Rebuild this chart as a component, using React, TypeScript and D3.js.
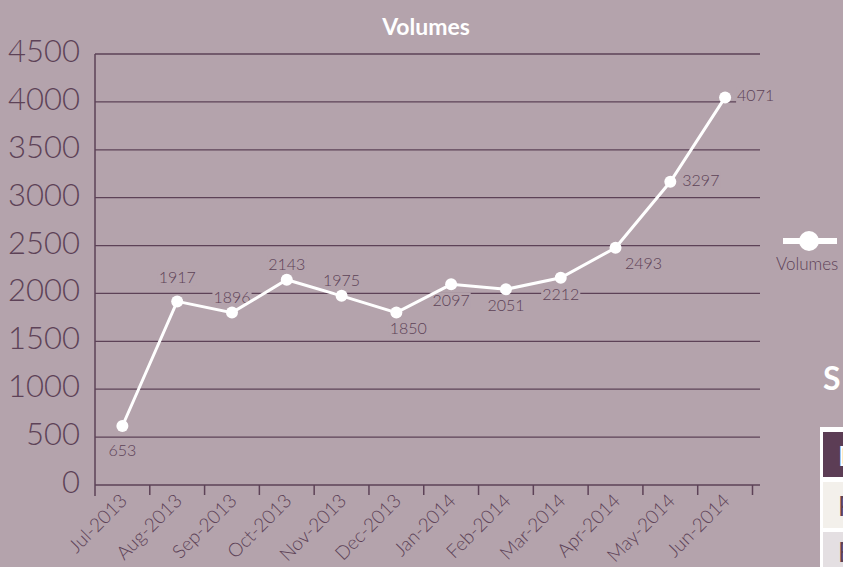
import React, { useRef, useEffect } from 'react';
import * as d3 from 'd3';

const months = ['Jul-2013', 'Aug-2013', 'Sep-2013', 'Oct-2013', 'Nov-2013', 'Dec-2013',
                'Jan-2014', 'Feb-2014', 'Mar-2014', 'Apr-2014', 'May-2014', 'Jun-2014'];
// where the markers sit in the picture
const volumes = [616, 1917, 1800, 2143, 1975, 1800, 2095, 2043, 2164, 2477, 3166, 4047];
// what the data labels say
const volumeLabels = ['653', '1917', '1896', '2143', '1975', '1850', '2097', '2051', '2212', '2493', '3297', '4071'];
const labelSpots = ['low', 'high', 'above', 'above', 'above', 'belowRight',
                    'below', 'below', 'below', 'belowRight', 'right', 'right'];
const yTicks = [0, 500, 1000, 1500, 2000, 2500, 3000, 3500, 4000, 4500];

const BG = '#b4a3ac';
const PLUM = '#5d4257';
const FONT = 'Lato, "Open Sans", sans-serif';

export default function App() {
    const chartRef = useRef<SVGSVGElement>(null);
    const width = 843, height = 567;

    useEffect(() => {
        document.body.style.margin = '0';
        document.body.style.overflow = 'hidden';

        const svg = d3.select(chartRef.current);
        svg.selectAll('*').remove();

        const left = 95, right = 760, top = 54, bottom = 485;

        const xScale = d3.scaleBand<string>()
            .domain(months)
            .range([left, 752.5]);
        const yScale = d3.scaleLinear()
            .domain([0, 4500])
            .range([bottom, top]);
        const cx = (m: string) => (xScale(m) as number) + xScale.bandwidth() / 2;

        svg.append('rect').attr('width', width).attr('height', height).attr('fill', BG);

        // title
        svg.append('text')
            .attr('x', 426).attr('y', 35)
            .attr('text-anchor', 'middle')
            .attr('font-family', FONT).attr('font-weight', 700).attr('font-size', 23)
            .attr('fill', '#fff')
            .text('Volumes');

        // gridlines + y labels
        const grid = svg.append('g');
        yTicks.filter(t => t > 0).forEach(t => {
            grid.append('line')
                .attr('x1', left).attr('x2', right)
                .attr('y1', yScale(t)).attr('y2', yScale(t))
                .attr('stroke', PLUM).attr('stroke-width', 1.3);
        });
        yTicks.forEach(t => {
            grid.append('text')
                .attr('x', 80).attr('y', yScale(t) + 8)
                .attr('text-anchor', 'end')
                .attr('font-family', FONT).attr('font-weight', 300).attr('font-size', 31)
                .attr('fill', PLUM)
                .text(t);
        });

        // axes
        svg.append('line')
            .attr('x1', left).attr('x2', left).attr('y1', top).attr('y2', bottom + 11)
            .attr('stroke', PLUM).attr('stroke-width', 1.5);
        svg.append('line')
            .attr('x1', left).attr('x2', right).attr('y1', bottom).attr('y2', bottom)
            .attr('stroke', PLUM).attr('stroke-width', 1.5);
        const edges = months.map(m => xScale(m) as number).concat([xScale.range()[1]]);
        svg.selectAll('line.xt').data(edges.slice(1)).join('line')
            .attr('class', 'xt')
            .attr('x1', d => d).attr('x2', d => d)
            .attr('y1', bottom).attr('y2', bottom + 10)
            .attr('stroke', PLUM).attr('stroke-width', 1.5);

        svg.selectAll('text.xl').data(months).join('text')
            .attr('class', 'xl')
            .attr('transform', d => `translate(${cx(d) + 6},${bottom + 17}) rotate(-45)`)
            .attr('text-anchor', 'end')
            .attr('font-family', FONT).attr('font-weight', 300).attr('font-size', 19)
            .attr('fill', PLUM)
            .text(d => d);

        // data labels, with a patch of background behind each
        const offsets: Record<string, [number, number, string]> = {
            low: [0, 30, 'middle'],
            high: [0, -18, 'middle'],
            above: [0, -10, 'middle'],
            below: [0, 22, 'middle'],
            belowRight: [12, 21, 'middle'],
            right: [12, 4, 'start'],
        };
        const labels = svg.append('g');
        months.forEach((m, i) => {
            const [dx, dy, anchor] = offsets[labelSpots[i]];
            const extra = i === 9 ? 16 : 0;
            const g = labels.append('g');
            const t = g.append('text')
                .attr('x', cx(m) + dx + extra).attr('y', yScale(volumes[i]) + dy)
                .attr('text-anchor', anchor)
                .attr('font-family', FONT).attr('font-weight', 300).attr('font-size', 16)
                .attr('fill', PLUM)
                .text(volumeLabels[i]);
            const bb = (t.node() as SVGTextElement).getBBox();
            g.insert('rect', 'text')
                .attr('x', bb.x - 1).attr('y', bb.y + 2)
                .attr('width', bb.width + 2).attr('height', bb.height - 3)
                .attr('fill', BG);
        });

        // line + markers
        const line = d3.line<number>()
            .x((d, i) => cx(months[i]))
            .y(d => yScale(d));
        svg.append('path')
            .attr('d', line(volumes))
            .attr('fill', 'none').attr('stroke', '#fff').attr('stroke-width', 3);
        svg.selectAll('circle.pt').data(volumes).join('circle')
            .attr('class', 'pt')
            .attr('cx', (d, i) => cx(months[i]))
            .attr('cy', d => yScale(d))
            .attr('r', 6)
            .attr('fill', '#fff');

        // legend
        svg.append('line')
            .attr('x1', 783).attr('x2', 837).attr('y1', 241).attr('y2', 241)
            .attr('stroke', '#fff').attr('stroke-width', 6);
        svg.append('circle').attr('cx', 809).attr('cy', 241).attr('r', 10).attr('fill', '#fff');
        svg.append('text')
            .attr('x', 776).attr('y', 270)
            .attr('font-family', FONT).attr('font-weight', 300).attr('font-size', 17)
            .attr('fill', PLUM)
            .text('Volumes');

        // start of the side panel, cut by the window
        svg.append('text')
            .attr('x', 823).attr('y', 390)
            .attr('font-family', FONT).attr('font-weight', 700).attr('font-size', 32)
            .attr('fill', '#fff')
            .text('S');
        svg.append('rect').attr('x', 820).attr('y', 427).attr('width', 30).attr('height', 150).attr('fill', '#fff');
        svg.append('rect').attr('x', 823).attr('y', 432).attr('width', 30).attr('height', 45).attr('fill', '#5c3d55');
        svg.append('rect').attr('x', 823).attr('y', 482).attr('width', 30).attr('height', 46).attr('fill', '#f3f0eb');
        svg.append('rect').attr('x', 823).attr('y', 532).attr('width', 30).attr('height', 40).attr('fill', '#e4dfe2');
        const cells = [['D', 466, '#fff'], ['F', 516, PLUM], ['E', 562, PLUM]];
        cells.forEach(([s, y, c]) => {
            svg.append('text')
                .attr('x', 838).attr('y', y as number)
                .attr('font-family', FONT).attr('font-weight', 400).attr('font-size', 26)
                .attr('fill', c as string)
                .text(s as string);
        });

    }, []);

    return (
        <div>
            <svg width={width} height={height} ref={chartRef} style={{ display: 'block' }} />
        </div>
    );
}
